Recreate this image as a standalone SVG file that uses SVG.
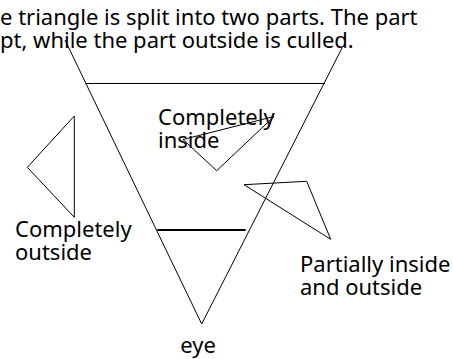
<svg xmlns="http://www.w3.org/2000/svg" width="453" height="359" viewBox="0 0 453 359">
<style>
text{font-family:"Noto Sans","Open Sans",sans-serif;font-size:22px;fill:#000}
.ln{stroke:#000;stroke-width:1;fill:none}
.thick{stroke:#000;stroke-width:2;fill:none}
</style>
<rect width="453" height="359" fill="#fff"/>
<g id="caption">
<text x="0" y="25">e triangle is split into two parts. The part</text>
<text x="0" y="48.3">pt, while the part outside is culled.</text>
</g>
<g id="frustum">
<polyline class="ln" points="65,40 201.7,324 342,48"/>
<line class="ln" x1="85.7" y1="83.5" x2="325" y2="83.5"/>
<line class="thick" x1="157.3" y1="230" x2="245.7" y2="230"/>
<text x="198" y="353.3" text-anchor="middle">eye</text>
</g>
<g id="inside">
<polygon class="ln" points="183,139.5 274,116.5 216.7,170.7"/>
<text x="158" y="125">Completely</text>
<text x="158" y="148.3">inside</text>
</g>
<g id="outside">
<polygon class="ln" points="74.3,116 27.3,167.3 74.3,217.3"/>
<text x="15" y="236.7">Completely</text>
<text x="15" y="260">outside</text>
</g>
<g id="partial">
<polygon class="ln" points="244,184.7 306.7,181.3 330.7,239.3"/>
<text x="300" y="271.7">Partially inside</text>
<text x="300" y="295">and outside</text>
</g>
</svg>
